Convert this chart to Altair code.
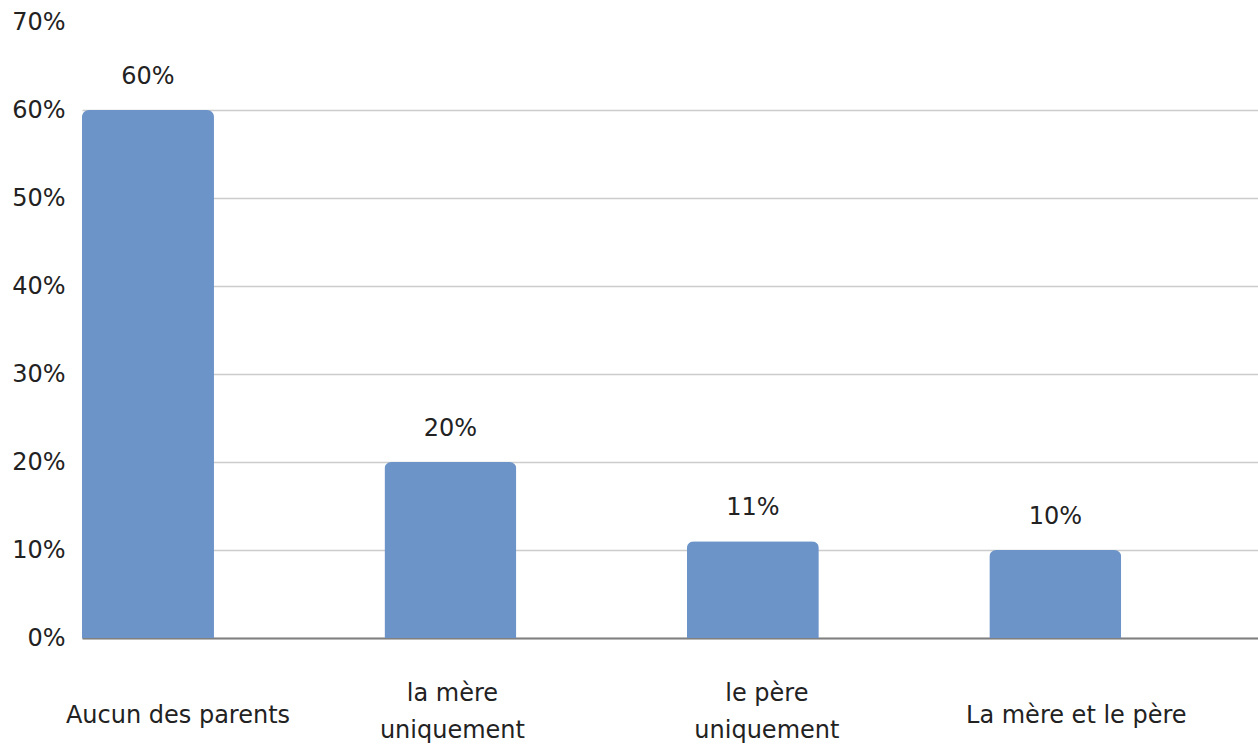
import altair as alt
import pandas as pd

categories = ["Aucun des parents", "la mère uniquement", "le père uniquement", "La mère et le père"]
values = [0.60, 0.20, 0.11, 0.10]
value_labels = ["60%", "20%", "11%", "10%"]
y_ticks = [0, 0.1, 0.2, 0.3, 0.4, 0.5, 0.6, 0.7]

df = pd.DataFrame({"cat": categories, "val": values, "lab": value_labels})

FONT = "DejaVu Sans"
TXT = "#222222"

label_offset = {
    "condition": [
        {"test": "datum.value === 'Aucun des parents'", "value": 30},
        {"test": "datum.value === 'la mère uniquement'", "value": 2},
        {"test": "datum.value === 'La mère et le père'", "value": 21},
    ],
    "value": 14,
}
label_padding = {
    "condition": {"test": "indexof(datum.value, ' uniquement') > 0", "value": 55},
    "value": 77,
}

x_enc = alt.X(
    "cat:N",
    sort=categories,
    scale=alt.Scale(paddingInner=0.5636, paddingOuter=0.226, align=0),
    axis=alt.Axis(
        title=None,
        ticks=False,
        grid=False,
        domain=True,
        domainColor="#808080",
        domainWidth=2,
        labelAngle=0,
        labelFont=FONT,
        labelFontSize=24,
        labelColor=TXT,
        labelBaseline="middle",
        labelPadding=label_padding,
        labelLineHeight=37,
        labelLimit=400,
        labelOffset=label_offset,
        labelExpr="indexof(datum.label, ' uniquement') > 0 ? [replace(datum.label, ' uniquement', ''), 'uniquement'] : datum.label",
    ),
)

y_enc = alt.Y(
    "val:Q",
    scale=alt.Scale(domain=[0, 0.7], nice=False),
    axis=alt.Axis(
        title=None,
        values=y_ticks,
        format=".0%",
        ticks=False,
        domain=False,
        grid=True,
        labelFont=FONT,
        labelFontSize=24,
        labelColor=TXT,
        labelAlign="right",
        labelBaseline="middle",
        labelPadding=17,
        gridColor="#cccccc",
        gridWidth=1.5,
        gridOpacity=alt.condition("datum.value > 0.65", alt.value(0), alt.value(1)),
    ),
)

bars = alt.Chart(df).mark_bar(
    color="#6c94c9", cornerRadiusTopLeft=7, cornerRadiusTopRight=7
).encode(x=x_enc, y=y_enc)

texts = alt.Chart(df).mark_text(
    font=FONT, fontSize=24, color=TXT, baseline="middle", dy=-33
).encode(x=alt.X("cat:N", sort=categories), y="val:Q", text="lab:N")

chart = (
    alt.layer(bars, texts)
    .properties(
        width=1176,
        height=616,
        background="white",
        autosize=alt.AutoSizeParams(type="none"),
        padding={"left": 82, "top": 22, "right": 0, "bottom": 109},
    )
    .configure_view(strokeWidth=0, stroke="transparent")
)

chart.save("out.html", embed_options={"renderer": "svg", "actions": False})
